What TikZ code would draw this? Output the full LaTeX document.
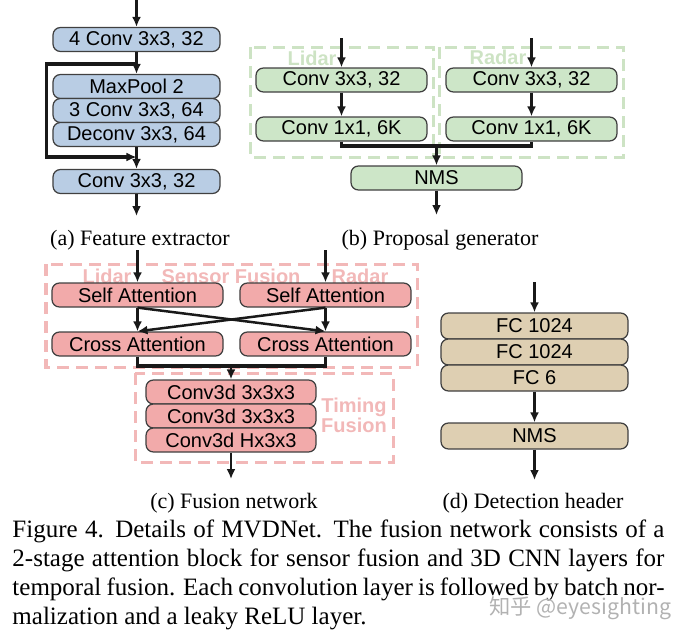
\documentclass[tikz,border=0pt]{standalone}
\usepackage{fontspec}
\setmainfont{Liberation Serif}
\setsansfont{Liberation Sans}
\newfontfamily\cjkfont{Noto Sans CJK SC}
\usetikzlibrary{arrows.meta}
\definecolor{featblue}{HTML}{B9CDE4}
\definecolor{propgreen}{HTML}{CDE6C8}
\definecolor{propline}{HTML}{CDE3C4}
\definecolor{fusepink}{HTML}{F2AAAA}
\definecolor{fuseline}{HTML}{F2B8B8}
\definecolor{headtan}{HTML}{DECFB2}
\tikzset{
  layer/.style={draw=black!75, line width=0.5pt, rounded corners=3pt, inner sep=0pt,
    minimum height=9.6pt, font=\sffamily\fontsize{8}{9}\selectfont},
  featbox/.style={layer, fill=featblue, minimum width=66.8pt},
  propbox/.style={layer, fill=propgreen, minimum width=68.4pt},
  fusebox/.style={layer, fill=fusepink, minimum width=68.4pt},
  headbox/.style={layer, fill=headtan, minimum width=74.8pt, minimum height=10.4pt},
  flow/.style={-{Latex[length=4pt,width=3.6pt]}, line width=1pt, black!90},
  merge/.style={line width=1.3pt, black!90},
  dashgroup/.style={dash pattern=on 4.8pt off 2.8pt, line width=1.2pt},
  grouplabel/.style={font=\sffamily\bfseries\fontsize{8}{8}\selectfont, inner sep=0pt},
  subcap/.style={font=\fontsize{8.8}{10}\selectfont, anchor=base, inner sep=0pt}
}
\begin{document}
\begin{tikzpicture}[x=0.4pt,y=-0.4pt]
\useasboundingbox (0,0) rectangle (682,636);

\node[featbox] (a1) at(136.5,39.5) {4 Conv 3x3, 32};
\node[featbox] (a2) at(136.5,86.5) {MaxPool 2};
\node[featbox] (a3) at(136.5,110.5) {3 Conv 3x3, 64};
\node[featbox] (a4) at(136.5,134.5) {Deconv 3x3, 64};
\node[featbox] (a5) at(136.5,181.5) {Conv 3x3, 32};
\coordinate (ain) at(136.5,0);
\coordinate (askip) at(136.5,64);
\coordinate (ajoin) at(136.5,157);
\coordinate (aout) at(136.5,216);
\draw[flow] (ain) -- (a1);
\draw[flow] (a1) -- (a2);
\draw[flow, line width=1.3pt] (askip) -- ++(-90,0) |- (ajoin);
\draw[flow] (a4) -- (a5);
\draw[flow] (a5) -- (aout);
\node[subcap] (capa) at(140,245) {(a) Feature extractor};

\draw[dashgroup, draw=propline] (250,47) rectangle (433,157);
\draw[dashgroup, draw=propline] (439,47) rectangle (623,157);
\node[grouplabel, text=propline] (blidar) at(312,58) {Lidar};
\node[grouplabel, text=propline] (bradar) at(498,57) {Radar};
\node[propbox] (b1) at(341.5,80) {Conv 3x3, 32};
\node[propbox] (b2) at(341.5,129) {Conv 1x1, 6K};
\node[propbox] (b3) at(531.5,80) {Conv 3x3, 32};
\node[propbox] (b4) at(531.5,129) {Conv 1x1, 6K};
\node[propbox] (b5) at(436.5,178) {NMS};
\coordinate (blin) at(341.5,38);
\coordinate (brin) at(531.5,38);
\coordinate (bjoin) at(436.5,146);
\coordinate (bout) at(436.5,215);
\draw[flow] (blin) -- (b1);
\draw[flow] (brin) -- (b3);
\draw[flow] (b1) -- (b2);
\draw[flow] (b3) -- (b4);
\draw[merge] (b2.south) |- (bjoin) -| (b4.south);
\draw[flow] (bjoin) -- (b5);
\draw[flow] (b5) -- (bout);
\node[subcap] (capb) at(440,245) {(b) Proposal generator};

\draw[dashgroup, draw=fuseline] (46,264) rectangle (417,367);
\draw[dashgroup, draw=fuseline] (135,373) rectangle (393,462);
\node[grouplabel, text=fuseline] (clidar) at(107,276) {Lidar};
\node[grouplabel, text=fuseline] (csensor) at(231,276) {Sensor Fusion};
\node[grouplabel, text=fuseline] (cradar) at(360,276) {Radar};
\node[grouplabel, text=fuseline, align=center] (ctiming) at(354,415) {Timing\\Fusion};
\node[fusebox] (c1) at(137.5,295) {Self Attention};
\node[fusebox] (c2) at(325.5,295) {Self Attention};
\node[fusebox] (c3) at(137.5,344) {Cross Attention};
\node[fusebox] (c4) at(325.5,344) {Cross Attention};
\node[fusebox, minimum width=68pt] (c5) at(231,392) {Conv3d 3x3x3};
\node[fusebox, minimum width=68pt] (c6) at(231,416) {Conv3d 3x3x3};
\node[fusebox, minimum width=68pt] (c7) at(231,440) {Conv3d Hx3x3};
\coordinate (clin) at(137.5,250);
\coordinate (crin) at(325.5,250);
\coordinate (cjoin) at(231,366);
\coordinate (cout) at(231,479);
\draw[flow] (clin) -- (c1);
\draw[flow] (crin) -- (c2);
\draw[flow] (c1) -- (c3);
\draw[flow] (c2) -- (c4);
\draw[flow] (c1.south) -- (c4.north);
\draw[flow] (c2.south) -- (c3.north);
\draw[merge] (c3.south) |- (cjoin) -| (c4.south);
\draw[flow] (cjoin) -- (c5);
\draw[flow] (c7) -- (cout);
\node[subcap] (capc) at(234,508) {(c) Fusion network};

\node[headbox] (d1) at(534.5,326) {FC 1024};
\node[headbox] (d2) at(534.5,352) {FC 1024};
\node[headbox] (d3) at(534.5,378) {FC 6};
\node[headbox] (d4) at(534.5,436) {NMS};
\coordinate (din) at(534.5,282);
\coordinate (dout) at(534.5,480);
\draw[flow] (din) -- (d1);
\draw[flow] (d3) -- (d4);
\draw[flow] (d4) -- (dout);
\node[subcap] (capd) at(533,508) {(d) Detection header};

\node[anchor=base west, inner sep=0pt, text width=260.8pt, align=justify,
  font=\fontsize{10}{11.7}\selectfont] (caption) at(12,537)
  {Figure 4. Details of MVDNet.  The fusion network consists of a\linebreak
   2-stage attention block for sensor fusion and 3D CNN layers for\linebreak
   temporal fusion. Each convolution layer is followed by batch nor-\linebreak
   malization and a leaky ReLU layer.};
\node[anchor=west, inner sep=0pt, text=black!30, font=\cjkfont\fontsize{8.5}{9}\selectfont]
  (mark) at(489,608) {知乎 @eyesighting};
\end{tikzpicture}
\end{document}
